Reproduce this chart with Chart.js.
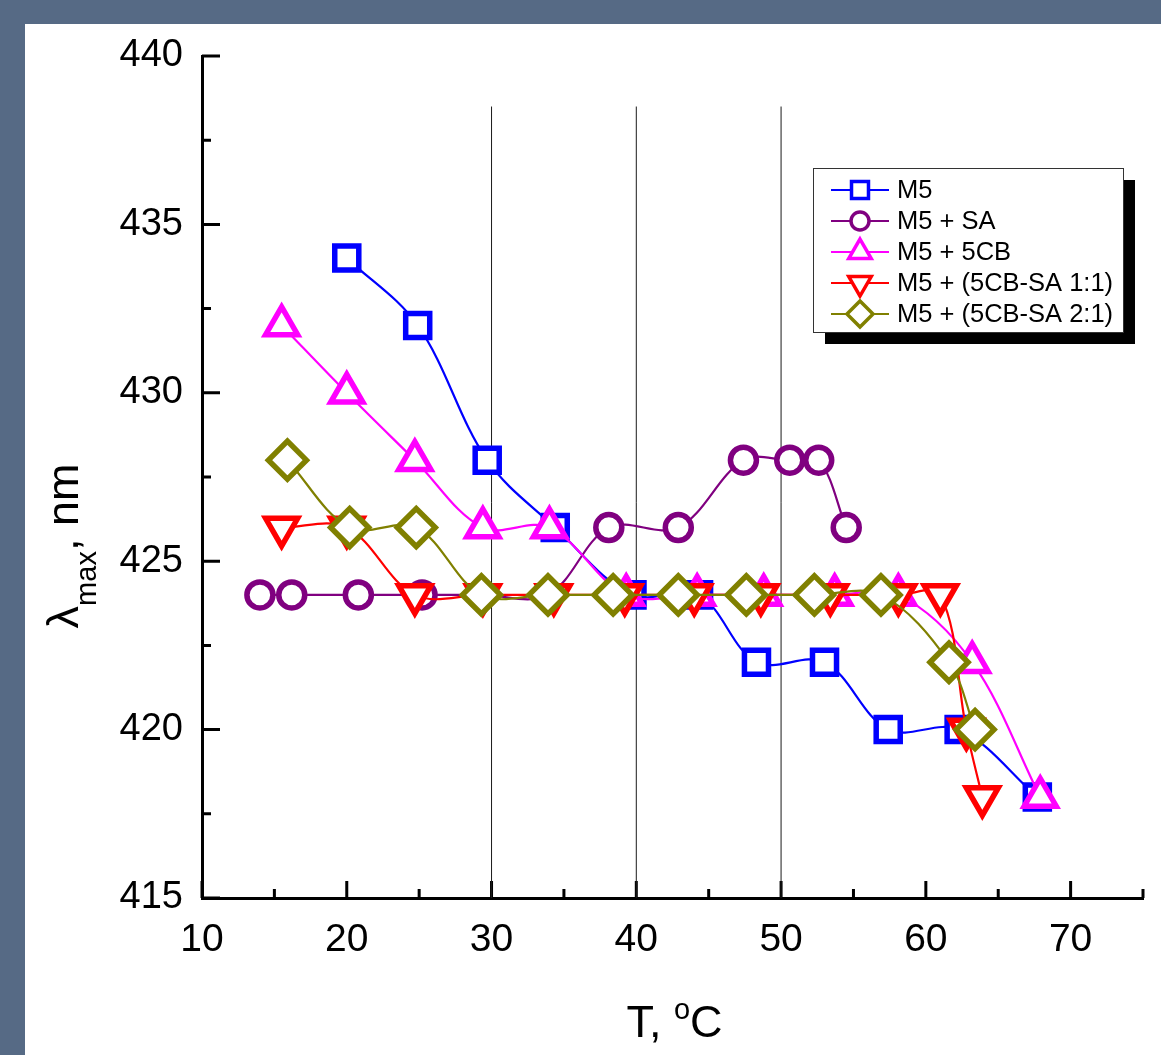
<!DOCTYPE html>
<html>
<head>
<meta charset="utf-8">
<script src="https://cdn.jsdelivr.net/npm/chart.js@4.4.1/dist/chart.umd.min.js"></script>
<style>
  html, body { margin: 0; padding: 0; }
  body { width: 1161px; height: 1055px; background: #566a85; position: relative; overflow: hidden; }
  #panel { position: absolute; left: 25px; top: 24px; right: 0; bottom: 0; background: #fff; }
  #chartT { position: absolute; left: 0; top: 0; }
</style>
</head>
<body>
<div id="panel"></div>
<canvas id="chartT" width="1161" height="1055"></canvas>
<script>
// temperatures (°C) and lambda max (nm) per sample
const tM5 = [20, 24.9, 29.7, 34.4, 39.7, 44.3, 48.3, 53, 57.4, 62.3, 67.7];
const lM5 = [434, 432, 428, 426, 424, 424, 422, 422, 420, 420, 418];
const tSA = [14, 16.2, 20.8, 25.2, 29.3, 33.9, 38.1, 42.9, 47.4, 50.6, 52.6, 54.5];
const lSA = [424, 424, 424, 424, 424, 424, 426, 426, 428, 428, 428, 426];
const t5CB = [15.5, 20, 24.7, 29.4, 34, 39.3, 44.2, 48.8, 53.7, 58.1, 63.2, 67.9];
const l5CB = [432, 430, 428, 426, 426, 424, 424, 424, 424, 424, 422, 418];
const tMix11 = [15.5, 20, 24.7, 29.4, 34.3, 39.2, 44, 48.6, 53.4, 58.1, 61, 62.8, 63.9];
const lMix11 = [426, 426, 424, 424, 424, 424, 424, 424, 424, 424, 424, 420, 418];
const tMix21 = [15.9, 20.2, 24.8, 29.3, 33.9, 38.4, 42.9, 47.6, 52.3, 56.9, 61.6, 63.4];
const lMix21 = [428, 426, 426, 424, 424, 424, 424, 424, 424, 424, 422, 420];

const seriesNames = ['M5', 'M5 + SA', 'M5 + 5CB', 'M5 + (5CB-SA 1:1)', 'M5 + (5CB-SA 2:1)'];

const xMajor = [10, 20, 30, 40, 50, 60, 70];
const xMinor = [15, 25, 35, 45, 55, 65, 75];
const yMajor = [415, 420, 425, 430, 435, 440];
const yMinor = [417.5, 422.5, 427.5, 432.5, 437.5];

// thin vertical marker lines
const markT = [30, 40, 50];
const markTop = 438.5;

const FONT = '"Liberation Sans", Arial, sans-serif';

let chartT;

const pts = (xs, ys) => xs.map((x, i) => ({ x: x, y: ys[i] }));

const makeSeries = (idx, xs, ys, color, style, radius, rotation, order) => ({
    label: seriesNames[idx],
    data: pts(xs, ys),
    borderColor: color,
    borderWidth: 2.2,
    tension: 0.35,
    pointStyle: style,
    pointRadius: radius,
    pointRotation: rotation,
    pointBorderWidth: 5.5,
    pointBorderColor: color,
    pointBackgroundColor: '#ffffff',
    order: order,
    legendIdx: idx
});

const tickPlugin = {
    id: 'inTicks',
    beforeDatasetsDraw(chart) {
        const ctx = chart.ctx;
        const xs = chart.scales.x, ys = chart.scales.y;
        const a = chart.chartArea;
        ctx.save();
        ctx.strokeStyle = '#000';
        ctx.lineWidth = 3;
        ctx.beginPath();
        yMajor.forEach(v => { const p = ys.getPixelForValue(v); ctx.moveTo(a.left, p); ctx.lineTo(a.left + 18, p); });
        yMinor.forEach(v => { const p = ys.getPixelForValue(v); ctx.moveTo(a.left, p); ctx.lineTo(a.left + 9, p); });
        xMajor.forEach(v => { const p = xs.getPixelForValue(v); ctx.moveTo(p, a.bottom); ctx.lineTo(p, a.bottom - 17); });
        xMinor.forEach(v => { const p = xs.getPixelForValue(v); ctx.moveTo(p, a.bottom); ctx.lineTo(p, a.bottom - 9); });
        ctx.stroke();
        ctx.restore();
    }
};

const titlePlugin = {
    id: 'axisTitles',
    afterDraw(chart) {
        const ctx = chart.ctx;
        const a = chart.chartArea;
        ctx.save();
        ctx.fillStyle = '#000';
        ctx.textBaseline = 'alphabetic';
        ctx.textAlign = 'left';

        // x title: T, °C with raised o
        const big = '45px ' + FONT, sup = '29px ' + FONT;
        ctx.font = big;
        const w1 = ctx.measureText('T, ').width;
        const w3 = ctx.measureText('C').width;
        ctx.font = sup;
        const w2 = ctx.measureText('o').width;
        let x = (a.left + a.right) / 2 - (w1 + w2 + w3) / 2 + 2;
        const by = a.bottom + 139;
        ctx.font = big; ctx.fillText('T, ', x, by); x += w1;
        ctx.font = sup; ctx.fillText('o', x, by - 18); x += w2;
        ctx.font = big; ctx.fillText('C', x, by);

        // y title: lambda_max, nm (rotated)
        ctx.translate(a.left - 124, 546);
        ctx.rotate(-Math.PI / 2);
        const sub = '29px ' + FONT;
        ctx.font = big;
        const v1 = ctx.measureText('\u03bb').width;
        const v3 = ctx.measureText(', nm').width;
        ctx.font = sub;
        const v2 = ctx.measureText('max').width;
        let px = -(v1 + v2 + v3) / 2;
        ctx.font = big; ctx.fillText('\u03bb', px, 0); px += v1;
        ctx.font = sub; ctx.fillText('max', px, 18); px += v2;
        ctx.font = big; ctx.fillText(', nm', px, 0);
        ctx.restore();
    }
};

const legendPlugin = {
    id: 'boxLegend',
    afterDraw(chart) {
        const ctx = chart.ctx;
        const a = chart.chartArea;
        const bx = a.right - 330, by = a.top + 112, bw = 310, bh = 164;
        ctx.save();
        ctx.fillStyle = '#000';
        ctx.fillRect(bx + 12, by + 12, bw, bh);
        ctx.fillStyle = '#fff';
        ctx.fillRect(bx, by, bw, bh);
        ctx.strokeStyle = '#333';
        ctx.lineWidth = 1;
        ctx.strokeRect(bx + 0.5, by + 0.5, bw, bh);

        const items = chart.data.datasets.filter(d => d.legendIdx !== undefined)
            .sort((p, q) => p.legendIdx - q.legendIdx);
        const scaleR = { circle: 9, rect: 12, triangle: 13, rectRot: 13 };
        items.forEach((d, i) => {
            const y = by + 22 + i * 31;
            ctx.strokeStyle = d.borderColor;
            ctx.lineWidth = 2.2;
            ctx.beginPath();
            ctx.moveTo(bx + 18, y);
            ctx.lineTo(bx + 76, y);
            ctx.stroke();
            ctx.fillStyle = '#fff';
            ctx.lineWidth = 3.5;
            Chart.helpers.drawPoint(ctx, {
                pointStyle: d.pointStyle,
                rotation: d.pointRotation || 0,
                radius: scaleR[d.pointStyle],
                borderWidth: 3.5
            }, bx + 47, y);
            ctx.fillStyle = '#000';
            ctx.font = '25.5px ' + FONT;
            ctx.textBaseline = 'middle';
            ctx.fillText(d.label, bx + 84, y + 1);
        });
        ctx.restore();
    }
};

const initChartT = () => {
    const ctx = document.getElementById('chartT').getContext('2d');

    const markSets = markT.map(t => ({
        data: [{ x: t, y: yMajor[0] }, { x: t, y: markTop }],
        borderColor: '#1a1a1a',
        borderWidth: 1,
        pointRadius: 0,
        tension: 0,
        order: 10
    }));

    chartT = new Chart(ctx, {
        type: 'line',
        data: {
            datasets: [
                makeSeries(0, tM5, lM5, '#0000ff', 'rect', 17, 0, 5),
                makeSeries(1, tSA, lSA, '#800080', 'circle', 13, 0, 4),
                makeSeries(2, t5CB, l5CB, '#ff00ff', 'triangle', 18.5, 0, 3),
                makeSeries(3, tMix11, lMix11, '#ff0000', 'triangle', 18.5, 180, 2),
                makeSeries(4, tMix21, lMix21, '#808000', 'rectRot', 19, 0, 1),
                ...markSets
            ]
        },
        options: {
            responsive: false,
            devicePixelRatio: 1,
            animation: false,
            layout: { autoPadding: false, padding: { left: 0, top: 56, right: 18, bottom: 0 } },
            plugins: { legend: { display: false }, tooltip: { enabled: false } },
            scales: {
                x: {
                    type: 'linear',
                    min: 10,
                    max: 75,
                    afterBuildTicks: s => { s.ticks = xMajor.map(v => ({ value: v })); },
                    afterFit: s => { s.height = 157; s.paddingLeft = 0; s.paddingRight = 0; },
                    grid: { display: false, drawTicks: false, tickLength: 0 },
                    border: { display: true, color: '#000', width: 3 },
                    ticks: { color: '#000', font: { family: FONT, size: 39 }, padding: 19, maxRotation: 0 }
                },
                y: {
                    type: 'linear',
                    min: 415,
                    max: 440,
                    afterBuildTicks: s => { s.ticks = yMajor.map(v => ({ value: v })); },
                    afterFit: s => { s.width = 202; },
                    grid: { display: false, drawTicks: false, tickLength: 0 },
                    border: { display: true, color: '#000', width: 3 },
                    ticks: { color: '#000', font: { family: FONT, size: 38 }, padding: 19 }
                }
            }
        },
        plugins: [tickPlugin, titlePlugin, legendPlugin]
    });
};

initChartT();
</script>
</body>
</html>
